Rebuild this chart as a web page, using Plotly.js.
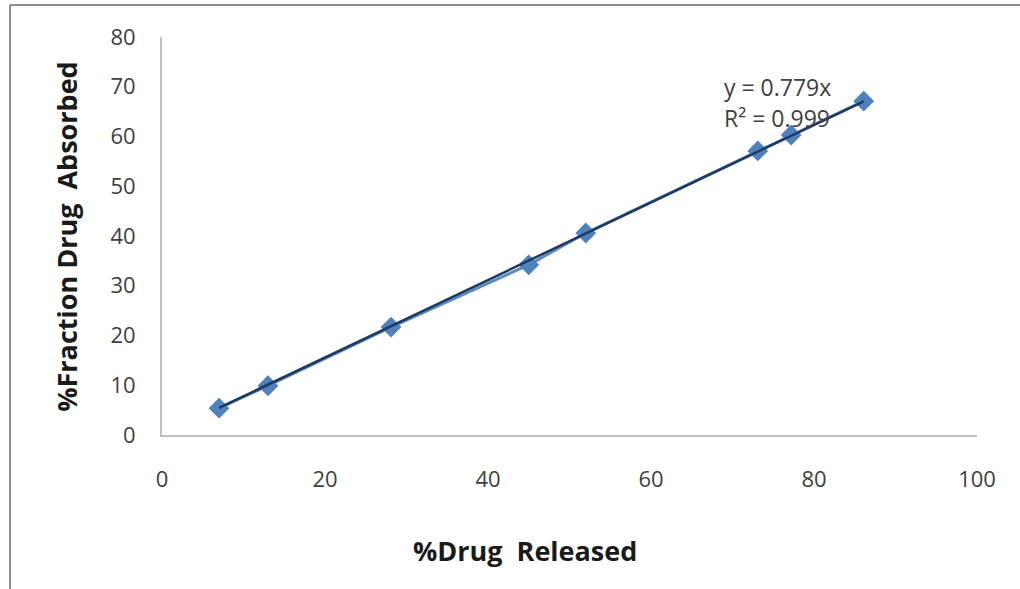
<!DOCTYPE html>
<html>
<head>
<meta charset="utf-8">
<script src="https://cdn.plot.ly/plotly-3.0.1.min.js"></script>
<style>
html,body{margin:0;padding:0;background:#fff;}
#chart{width:1020px;height:589px;}
</style>
</head>
<body>
<div id="chart"></div>
<script>
var drugReleased = [7.0, 13.0, 28.1, 45.0, 52.0, 73.1, 77.2, 86.1];
var fractionAbsorbed = [5.4, 9.9, 21.7, 34.2, 40.6, 57.1, 60.3, 67.1];
var trendSlope = 0.779;
var rSquared = 0.999;
var xTickVals = [0, 20, 40, 60, 80, 100];
var yTickVals = [0, 10, 20, 30, 40, 50, 60, 70, 80];

var xMin = Math.min.apply(null, drugReleased);
var xMax = Math.max.apply(null, drugReleased);
var trendX = [xMin, xMax];
var trendY = trendX.map(function(v){ return trendSlope * v; });

var font = '"Open Sans", "Liberation Sans", sans-serif';

var traces = [
  {
    x: drugReleased, y: fractionAbsorbed, type: 'scatter', mode: 'lines+markers',
    line: {color: '#5b8ac4', width: 3},
    marker: {symbol: 'diamond', size: 16, color: '#4f81bd'},
    showlegend: false, hoverinfo: 'skip'
  },
  {
    x: trendX, y: trendY, type: 'scatter', mode: 'lines',
    line: {color: '#1f3a5f', width: 2.5},
    showlegend: false, hoverinfo: 'skip'
  }
];

var layout = {
  width: 1020, height: 589,
  margin: {l: 162, r: 43, t: 37, b: 154},
  paper_bgcolor: '#ffffff', plot_bgcolor: '#ffffff',
  font: {family: font, color: '#404040', size: 22},
  xaxis: {
    range: [0, 100], tickvals: xTickVals, ticktext: xTickVals.map(String),
    showgrid: false, zeroline: false, showline: true, linecolor: '#c0c0c0', linewidth: 2,
    ticks: '', ticklen: 0, ticklabelstandoff: 24,
    tickfont: {size: 22, color: '#404040', family: font},
    fixedrange: true
  },
  yaxis: {
    range: [0, 80], tickvals: yTickVals, ticktext: yTickVals.map(String),
    showgrid: false, zeroline: false, showline: true, linecolor: '#c0c0c0', linewidth: 2,
    ticks: '', ticklen: 0, ticklabelstandoff: 20,
    tickfont: {size: 22, color: '#404040', family: font},
    fixedrange: true
  },
  annotations: [
    {
      xref: 'paper', yref: 'paper', x: 0.445, y: -0.289, xanchor: 'center', yanchor: 'middle',
      text: '<b>%Drug  Released</b>', showarrow: false,
      font: {size: 27, color: '#1a1a1a', family: font}
    },
    {
      xref: 'paper', yref: 'paper', x: -0.118, y: 0.5, xanchor: 'center', yanchor: 'middle',
      text: '<b>%Fraction Drug  Absorbed</b>', showarrow: false, textangle: -90,
      font: {size: 27, color: '#1a1a1a', family: font}
    },
    {
      xref: 'x', yref: 'y', x: 68.7, y: 69.9, xanchor: 'left', yanchor: 'middle',
      text: 'y = ' + trendSlope + 'x', showarrow: false,
      font: {size: 23, color: '#404040', family: font}
    },
    {
      xref: 'x', yref: 'y', x: 68.7, y: 63.7, xanchor: 'left', yanchor: 'middle',
      text: 'R² = ' + rSquared, showarrow: false,
      font: {size: 23, color: '#404040', family: font}
    }
  ],
  shapes: [
    {type: 'line', xref: 'paper', yref: 'paper', x0: -0.1865, x1: 1.1, y0: 1.0804, y1: 1.0804, line: {color: '#8c8c8c', width: 2}},
    {type: 'line', xref: 'paper', yref: 'paper', x0: -0.1865, x1: -0.1865, y0: 1.0804, y1: -0.4, line: {color: '#8c8c8c', width: 2}}
  ]
};

Plotly.newPlot('chart', traces, layout, {displayModeBar: false, staticPlot: true});
</script>
</body>
</html>
